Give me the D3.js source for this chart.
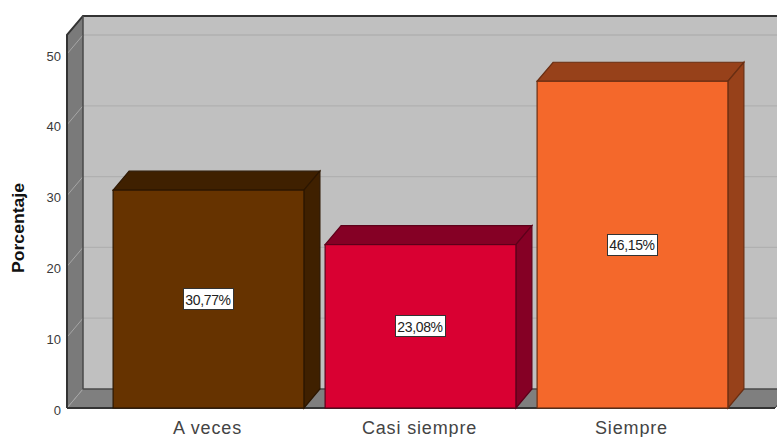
<!DOCTYPE html>
<html>
<head>
<meta charset="utf-8">
<script src="https://cdn.jsdelivr.net/npm/d3@7"></script>
<style>
html,body{margin:0;padding:0;background:#fff;overflow:hidden}
svg{display:block}
text{font-family:"Liberation Sans",Arial,sans-serif}
</style>
</head>
<body>
<svg id="c" width="777" height="437"></svg>
<script>
const categories = ["A veces", "Casi siempre", "Siempre"];
const values = [30.77, 23.08, 46.15];
const valueLabels = ["30,77%", "23,08%", "46,15%"];
const faceColors = ["#663300", "#d90032", "#f4682b"];
const sideColors = ["#3f2000", "#850025", "#97411a"];
const yTicks = [0, 10, 20, 30, 40, 50];
const yTitle = "Porcentaje";

const W = 777, H = 437;
const dx = 16, dy = -19;
const frontLeft = 67, frontRight = 775, frontBottom = 408;

const svg = d3.select("#c");
const y = d3.scaleLinear().domain([0, 50]).range([frontBottom, 54]);
const yTop = 52.7;
const x = d3.scaleBand().domain(categories).range([102.5, 738.5]).paddingInner(0.1).paddingOuter(0.05);

const poly = (pts) => pts.map(p => p.join(",")).join(" ");
const EDGE = "#333333";

// back wall
svg.append("polygon")
  .attr("points", poly([[frontLeft + dx, y(yTop) + dy], [frontRight + dx, y(yTop) + dy], [frontRight + dx, y(0) + dy], [frontLeft + dx, y(0) + dy]]))
  .attr("fill", "#c0c0c0");

// left wall
svg.append("polygon")
  .attr("points", poly([[frontLeft, y(yTop)], [frontLeft + dx, y(yTop) + dy], [frontLeft + dx, y(0) + dy], [frontLeft, y(0)]]))
  .attr("fill", "#7a7a7a");

// floor
svg.append("polygon")
  .attr("points", poly([[frontLeft, y(0)], [frontLeft + dx, y(0) + dy], [frontRight + dx, y(0) + dy], [frontRight, y(0)]]))
  .attr("fill", "#7f7f7f");

// gridlines
const grid = svg.append("g");
grid.selectAll("line.back").data(yTicks.filter(d => d > 0)).join("line")
  .attr("class", "back")
  .attr("x1", frontLeft + dx).attr("x2", frontRight + dx)
  .attr("y1", d => y(d) + dy).attr("y2", d => y(d) + dy)
  .attr("stroke", "#b0b0b0").attr("stroke-width", 1.3);
grid.selectAll("line.side").data(yTicks).join("line")
  .attr("class", "side")
  .attr("x1", frontLeft).attr("x2", frontLeft + dx)
  .attr("y1", d => y(d)).attr("y2", d => y(d) + dy)
  .attr("stroke", "#a6a6a6").attr("stroke-width", 1);

// walls' edges
svg.append("path")
  .attr("d", `M${frontLeft},${y(0)}V${y(yTop)}L${frontLeft + dx},${y(yTop) + dy}H${W + 20}`)
  .attr("fill", "none").attr("stroke", EDGE).attr("stroke-width", 2);
svg.append("path")
  .attr("d", `M${frontLeft + dx},${y(yTop) + dy}V${y(0) + dy}H${W + 20}`)
  .attr("fill", "none").attr("stroke", "#4a4a4a").attr("stroke-width", 1.5);
svg.append("line")
  .attr("x1", frontLeft).attr("x2", frontRight).attr("y1", y(0)).attr("y2", y(0))
  .attr("stroke", EDGE).attr("stroke-width", 2);
svg.append("line")
  .attr("x1", frontRight).attr("x2", frontRight + dx).attr("y1", y(0)).attr("y2", y(0) + dy)
  .attr("stroke", EDGE).attr("stroke-width", 1);

// bars
const bars = svg.append("g").selectAll("g").data(categories).join("g");
const edgeColor = (i) => d3.color(sideColors[i]).darker(1).formatHex();
bars.append("polygon") // top
  .attr("points", (c, i) => {
    const l = x(c), r = l + x.bandwidth(), t = y(values[i]);
    return poly([[l, t], [l + dx, t + dy], [r + dx, t + dy], [r, t]]);
  })
  .attr("fill", (c, i) => sideColors[i]).attr("stroke", (c, i) => edgeColor(i)).attr("stroke-width", 1.2);
bars.append("polygon") // side
  .attr("points", (c, i) => {
    const r = x(c) + x.bandwidth(), t = y(values[i]);
    return poly([[r, t], [r + dx, t + dy], [r + dx, y(0) + dy], [r, y(0)]]);
  })
  .attr("fill", (c, i) => sideColors[i]).attr("stroke", (c, i) => edgeColor(i)).attr("stroke-width", 1.2);
bars.append("rect") // front
  .attr("x", c => x(c)).attr("width", x.bandwidth())
  .attr("y", (c, i) => y(values[i])).attr("height", (c, i) => y(0) - y(values[i]))
  .attr("fill", (c, i) => faceColors[i]).attr("stroke", (c, i) => edgeColor(i)).attr("stroke-width", 1.2);

// value labels
const lw = 50, lh = 21;
bars.append("rect")
  .attr("x", c => Math.round(x(c) + x.bandwidth() / 2 - lw / 2) - 0.5)
  .attr("y", (c, i) => Math.round((y(values[i]) + y(0)) / 2 - lh / 2 + 0.7) - 0.5)
  .attr("width", lw).attr("height", lh)
  .attr("fill", "#fff").attr("stroke", "#333").attr("stroke-width", 1);
bars.append("text")
  .attr("x", c => x(c) + x.bandwidth() / 2 - 0.5)
  .attr("y", (c, i) => (y(values[i]) + y(0)) / 2 + 5.5)
  .attr("text-anchor", "middle").attr("font-size", 14).attr("letter-spacing", -0.35)
  .attr("fill", "#222").text((c, i) => valueLabels[i]);

// y axis labels
svg.append("g").selectAll("text").data(yTicks).join("text")
  .attr("x", 61).attr("y", d => y(d) + 6.5)
  .attr("text-anchor", "end").attr("font-size", 13).attr("fill", "#3a3a3a").text(d => d);

// x labels
svg.append("g").selectAll("text").data(categories).join("text")
  .attr("x", c => x(c) + x.bandwidth() / 2 - 1).attr("y", 434)
  .attr("text-anchor", "middle").attr("font-size", 18).attr("letter-spacing", 0.85).attr("fill", "#444").text(c => c);

// y title
svg.append("text")
  .attr("transform", "translate(24,228) rotate(-90)")
  .attr("text-anchor", "middle").attr("font-size", 16).attr("font-weight", "bold")
  .attr("textLength", 90).attr("lengthAdjust", "spacingAndGlyphs")
  .attr("fill", "#111").text(yTitle);
</script>
</body>
</html>
